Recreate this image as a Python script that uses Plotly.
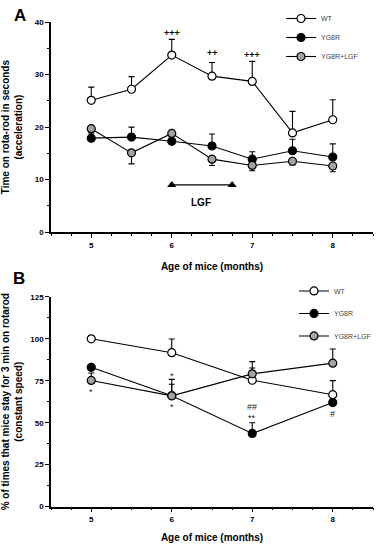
import plotly.graph_objects as go

# ---------------- data ----------------
months_A = [5, 5.5, 6, 6.5, 7, 7.5, 8]
wt_A = [25.1, 27.2, 33.7, 29.7, 28.7, 18.9, 21.4]
wt_A_err = [2.5, 2.4, 3.0, 2.6, 3.8, 4.1, 3.8]
yg_A = [17.9, 18.1, 17.3, 16.4, 13.9, 15.5, 14.3]
yg_A_err = [1.2, 1.9, 1.2, 2.3, 1.4, 2.2, 2.5]
lgf_A = [19.7, 15.1, 18.8, 13.9, 12.7, 13.5, 12.6]
lgf_A_err = [0.8, 2.1, 0.6, 1.2, 1.0, 0.7, 1.1]

lgf_period_x = [6.0, 6.75]
lgf_period_y = [9.0, 9.0]

months_B = [5, 6, 7, 8]
wt_B = [100, 91.7, 75.3, 66.7]
wt_B_err = [0, 8.2, 7.3, 8.4]
yg_B = [83.0, 66.1, 43.6, 62.0]
yg_B_err = [0, 9.7, 6.4, 0]
lgf_B = [75.2, 66.0, 79.1, 85.5]
lgf_B_err = [4.4, 6.9, 7.3, 8.4]

series_names = ["WT", "YG8R", "YG8R+LGF"]
fill_colors = ["white", "black", "#a3a3a3"]

sig_A = [(6, 38.0, "+++"), (6.5, 34.1, "++"), (7, 33.8, "+++")]
sig_B = [(5, 68.5, "*"), (6, 78.0, "*"), (6, 59.4, "*"),
         (7, 59.2, "##"), (7, 52.6, "**"), (8, 55.3, "#")]

x_ticks = [5, 6, 7, 8]

FONT = "Liberation Sans, Arial, sans-serif"

fig = go.Figure()

def add_series(x, y, up, down, name, color, xa, ya, legend, group):
    fig.add_trace(go.Scatter(
        x=x, y=y, name=name, mode="lines+markers",
        xaxis=xa, yaxis=ya, legend=legend, legendgroup=group,
        line=dict(color="black", width=1.1),
        marker=dict(size=8, color=color, line=dict(color="black", width=1.2)),
        error_y=dict(type="data", symmetric=False, array=up, arrayminus=down,
                     color="black", thickness=1.1, width=3),
    ))

zeros7 = [0] * len(months_A)
zeros4 = [0] * len(months_B)

add_series(months_A, wt_A, wt_A_err, zeros7, series_names[0], fill_colors[0], "x", "y", "legend", "a1")
add_series(months_A, yg_A, yg_A_err, zeros7, series_names[1], fill_colors[1], "x", "y", "legend", "a2")
add_series(months_A, lgf_A, zeros7, lgf_A_err, series_names[2], fill_colors[2], "x", "y", "legend", "a3")

fig.add_trace(go.Scatter(
    x=lgf_period_x, y=lgf_period_y, mode="lines+markers", showlegend=False,
    xaxis="x", yaxis="y",
    line=dict(color="black", width=1.1),
    marker=dict(symbol="triangle-up", size=8, color="black"),
))

add_series(months_B, wt_B, wt_B_err, zeros4, series_names[0], fill_colors[0], "x2", "y2", "legend2", "b1")
add_series(months_B, yg_B, yg_B_err, zeros4, series_names[1], fill_colors[1], "x2", "y2", "legend2", "b2")
add_series(months_B, lgf_B, lgf_B_err, zeros4, series_names[2], fill_colors[2], "x2", "y2", "legend2", "b3")

W, H = 377, 550
x_dom = [51 / W, 373 / W]
yA_dom = [1 - 232 / H, 1 - 18.3 / H]
yB_dom = [1 - 511 / H, 1 - 297.7 / H]

def tickfont():
    return dict(family=FONT, size=8, color="black", weight="bold")

def titlefont():
    return dict(family=FONT, size=10, color="black", weight="bold")

def xaxis_cfg(anchor, standoff):
    return dict(
        domain=x_dom, anchor=anchor, range=[4.5, 8.5],
        tickvals=x_ticks, ticks="outside", ticklen=4, tickwidth=1.2,
        tickcolor="black", showline=True, linecolor="black", linewidth=1.5,
        showgrid=False, zeroline=False, tickfont=tickfont(),
        minor=dict(dtick=0.25, tick0=4.5, ticks="outside", ticklen=2, tickcolor="black", tickwidth=1),
        title=dict(text="Age of mice (months)", font=titlefont(), standoff=standoff),
    )

def yaxis_cfg(anchor, dom, rng, dtick, title):
    return dict(
        domain=dom, anchor=anchor, range=rng, dtick=dtick,
        ticks="outside", ticklen=4, tickwidth=1.2, tickcolor="black",
        showline=True, linecolor="black", linewidth=1.5,
        showgrid=False, zeroline=False, tickfont=tickfont(),
        minor=dict(dtick=dtick / 2, ticks="outside", ticklen=2, tickcolor="black", tickwidth=1),
        title=dict(text=title, font=titlefont(), standoff=10),
    )

annotations = []
for x, y, t in sig_A:
    annotations.append(dict(x=x, y=y, xref="x", yref="y", text=t, showarrow=False,
                            font=dict(family=FONT, size=9, color="black", weight="bold")))
for x, y, t in sig_B:
    annotations.append(dict(x=x, y=y, xref="x2", yref="y2", text=t, showarrow=False,
                            font=dict(family=FONT, size=9, color="#222")))
annotations.append(dict(x=6.36, y=5.6, xref="x", yref="y", text="LGF", showarrow=False,
                        font=dict(family=FONT, size=10, color="black", weight="bold")))
annotations.append(dict(x=20 / W, y=1 - 12 / H, xref="paper", yref="paper", text="A",
                        xanchor="center", yanchor="middle",
                        showarrow=False, font=dict(family=FONT, size=17, color="black", weight="bold")))
annotations.append(dict(x=19 / W, y=1 - 279 / H, xref="paper", yref="paper", text="B",
                        xanchor="center", yanchor="middle",
                        showarrow=False, font=dict(family=FONT, size=17, color="black", weight="bold")))

fig.update_layout(
    width=W, height=H,
    margin=dict(l=0, r=0, t=0, b=0),
    paper_bgcolor="white", plot_bgcolor="white",
    showlegend=True,
    xaxis=xaxis_cfg("y", 14),
    yaxis=yaxis_cfg("x", yA_dom, [0, 40], 10,
                    "Time on rota-rod in seconds<br>(acceleration)"),
    xaxis2=xaxis_cfg("y2", 11),
    yaxis2=yaxis_cfg("x2", yB_dom, [0, 125], 25,
                     "% of times that mice stay for 3 min on rotarod<br>(constant speed)"),
    legend=dict(x=281 / W, y=1, xanchor="left", yanchor="top",
                font=dict(family=FONT, size=7, color="#444"),
                bgcolor="rgba(0,0,0,0)", tracegroupgap=0, itemsizing="trace"),
    legend2=dict(x=294 / W, y=1 - 277 / H, xanchor="left", yanchor="top",
                 font=dict(family=FONT, size=7, color="#444"),
                 bgcolor="rgba(0,0,0,0)", tracegroupgap=3.5, itemsizing="trace"),
    annotations=annotations,
)

post = (
    "document.documentElement.style.margin='0';"
    "document.body.style.margin='0';document.body.style.padding='0';"
    "document.body.style.overflow='hidden';"
    "var d=document.querySelector('.plotly-graph-div');"
    "d.style.position='absolute';d.style.top='0px';d.style.left='0px';"
    "window.scrollTo(0,0);"
)
fig.write_html("out.html", post_script=post, config={"displayModeBar": False})
